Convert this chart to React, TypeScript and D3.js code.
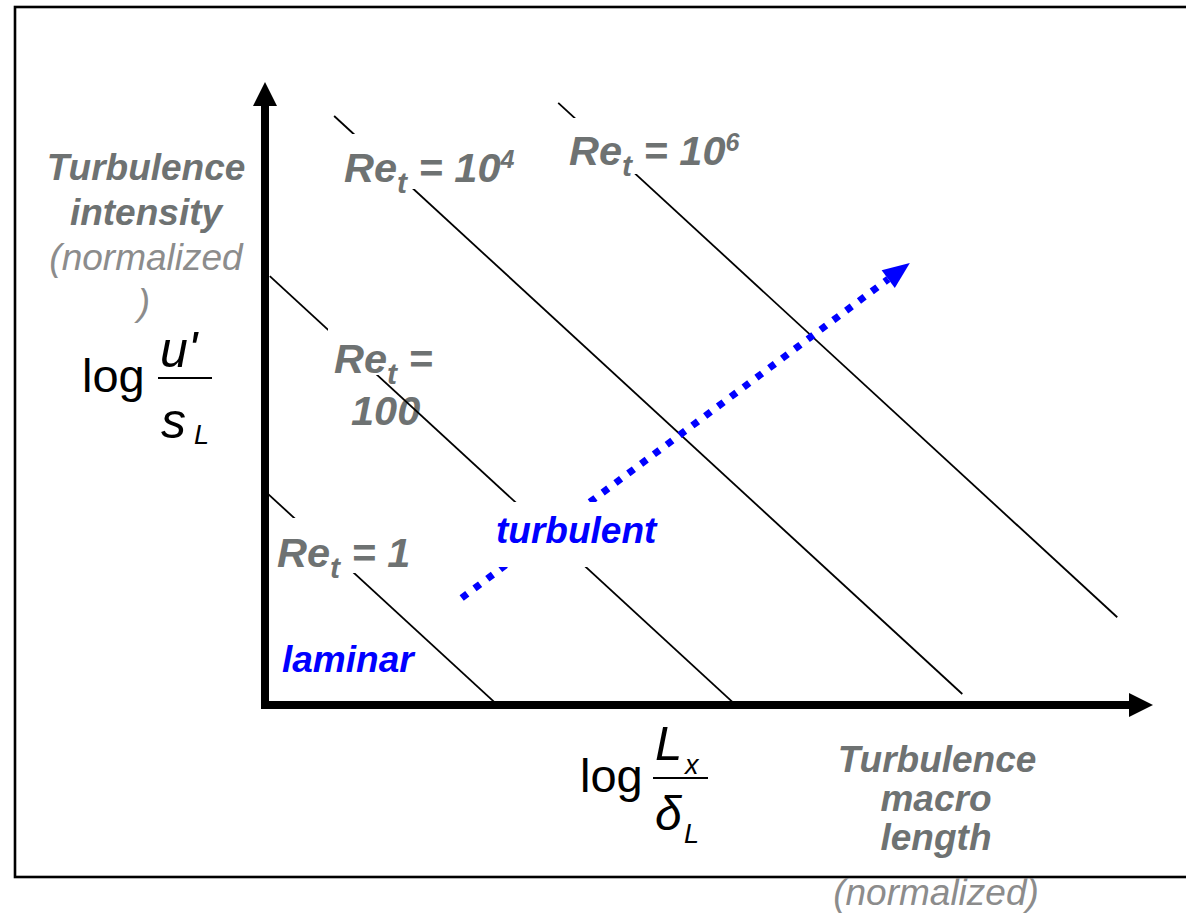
import React from "react";
import * as d3 from "d3";

const W = 1186;
const H = 914;

// Iso-lines of the turbulent Reynolds number: log10(Re_t) = log(u'/sL) + log(Lx/δL)
const reExponents = [0, 2, 4, 6];
// Extent of each iso-line along log(Lx/δL)
const lineFrom = [-1.93, -1.91, -1.37, 0.51];
const lineTo = [0.02, 2.03, 3.9, 5.2];

// Direction of increasing turbulence (log Lx/δL, log u'/sL)
const regimeArrowFrom: [number, number] = [-0.3, 0.976];
const regimeArrowTo: [number, number] = [3.46, 4.03];

// Axis extents in log units
const xDomain = [-1.95, 5.5];
const yDomain = [0, 5.68];

const FONT = "'Liberation Sans', Arial, Helvetica, sans-serif";
const GRAY = "#6e7272";
const LIGHT = "#8c8c8c";
const BLUE = "#0000ff";

function ReLabel({ x, y, tail, sup }: { x: number; y: number; tail: string; sup?: string }) {
  return (
    <text x={x} y={y} fontFamily={FONT} fontSize={41.5} fontWeight="bold" fontStyle="italic" fill={GRAY}>
      <tspan>Re</tspan>
      <tspan dy={11} fontSize={30}>t</tspan>
      <tspan dy={-11}>{tail}</tspan>
      {sup ? (
        <tspan dy={-14} fontSize={25}>
          {sup}
        </tspan>
      ) : null}
    </text>
  );
}

export default function App() {
  const x = d3.scaleLinear().domain(xDomain).range([265, 1153]);
  const y = d3.scaleLinear().domain(yDomain).range([705, 82]);
  const line = d3
    .line<[number, number]>()
    .x((d) => x(d[0]))
    .y((d) => y(d[1]));

  const x0 = x(xDomain[0]);
  const y0 = y(yDomain[0]);
  const xTip = x(xDomain[1]);
  const yTip = y(yDomain[1]);
  const head = 24;
  const half = 12;

  // regime arrow geometry
  const ax0 = x(regimeArrowFrom[0]);
  const ay0 = y(regimeArrowFrom[1]);
  const ax1 = x(regimeArrowTo[0]);
  const ay1 = y(regimeArrowTo[1]);
  const len = Math.hypot(ax1 - ax0, ay1 - ay0);
  const ux = (ax1 - ax0) / len;
  const uy = (ay1 - ay0) / len;
  const hl = 27;
  const hw = 11;
  const bx = ax1 - ux * hl;
  const by = ay1 - uy * hl;
  const headPts = [
    [ax1, ay1],
    [bx - uy * hw, by + ux * hw],
    [bx + uy * hw, by - ux * hw],
  ]
    .map((p) => p.join(","))
    .join(" ");

  return (
    <svg
      width={W}
      height={H}
      viewBox={`0 0 ${W} ${H}`}
      style={{ position: "absolute", left: 0, top: 0, background: "#fff" }}
    >
      <rect x={0} y={0} width={W} height={H} fill="#fff" />
      {/* frame */}
      <rect x={15} y={7} width={1190} height={870} fill="none" stroke="#000" strokeWidth={2.6} />

      {/* second line of the Re_t = 100 label sits beneath its iso-line */}
      <text x={351} y={425} fontFamily={FONT} fontSize={41.5} fontWeight="bold" fontStyle="italic" fill={GRAY}>
        100
      </text>

      {/* Re_t iso-lines */}
      {reExponents.map((e, i) => (
        <path
          key={e}
          d={
            line([
              [lineFrom[i], e - lineFrom[i]],
              [lineTo[i], e - lineTo[i]],
            ]) as string
          }
          stroke="#000"
          strokeWidth={1.8}
          fill="none"
        />
      ))}

      {/* dotted regime arrow */}
      <line
        x1={ax0}
        y1={ay0}
        x2={bx}
        y2={by}
        stroke={BLUE}
        strokeWidth={7}
        strokeDasharray="7 9"
      />
      <polygon points={headPts} fill={BLUE} />

      {/* label backgrounds */}
      <rect x={340} y={134} width={185} height={55} fill="#fff" />
      <rect x={565} y={118} width={185} height={56} fill="#fff" />
      <rect x={328} y={326} width={112} height={49} fill="#fff" />
      <rect x={273} y={518} width={142} height={55} fill="#fff" />
      <rect x={478} y={502} width={190} height={65} fill="#fff" />

      <ReLabel x={344} y={182} tail=" = 10" sup="4" />
      <ReLabel x={569} y={165} tail=" = 10" sup="6" />
      <ReLabel x={334} y={373} tail=" =" />
      <ReLabel x={277} y={567} tail=" = 1" />

      <text x={496} y={543} fontFamily={FONT} fontSize={37} fontWeight="bold" fontStyle="italic" fill={BLUE}>
        turbulent
      </text>
      <text x={282} y={672} fontFamily={FONT} fontSize={37} fontWeight="bold" fontStyle="italic" fill={BLUE}>
        laminar
      </text>

      {/* axes */}
      <line x1={x0} y1={y0 + 4} x2={x0} y2={yTip + head} stroke="#000" strokeWidth={8} />
      <polygon points={`${x0},${yTip} ${x0 - half},${yTip + head} ${x0 + half},${yTip + head}`} fill="#000" />
      <line x1={x0 - 4} y1={y0} x2={xTip - head} y2={y0} stroke="#000" strokeWidth={8} />
      <polygon points={`${xTip},${y0} ${xTip - head},${y0 - half} ${xTip - head},${y0 + half}`} fill="#000" />

      {/* y-axis title */}
      <g fontFamily={FONT} textAnchor="middle" fontSize={37} fontStyle="italic">
        <text x={146} y={180} fontWeight="bold" fill={GRAY}>
          Turbulence
        </text>
        <text x={146} y={225} fontWeight="bold" fill={GRAY}>
          intensity
        </text>
        <text x={146} y={270} fill={LIGHT}>
          (normalized
        </text>
        <text x={144} y={315} fill={LIGHT}>
          )
        </text>
      </g>
      <g fontFamily={FONT} fill="#000">
        <text x={82} y={392} fontSize={47}>
          log
        </text>
        <line x1={158} y1={378} x2={212} y2={378} stroke="#000" strokeWidth={2} />
        <text x={160} y={367} fontSize={50} fontStyle="italic">
          u'
        </text>
        <text x={161} y={438} fontSize={50} fontStyle="italic">
          s
        </text>
        <text x={194} y={444} fontSize={27} fontStyle="italic">
          L
        </text>
      </g>

      {/* x-axis title */}
      <g fontFamily={FONT} fill="#000">
        <text x={580} y={792} fontSize={47}>
          log
        </text>
        <line x1={653} y1={778} x2={708} y2={778} stroke="#000" strokeWidth={2} />
        <text x={655} y={760} fontSize={49} fontStyle="italic">
          L
        </text>
        <text x={685} y={774} fontSize={27} fontStyle="italic">
          x
        </text>
        <text x={655} y={830} fontSize={48} fontStyle="italic">
          δ
        </text>
        <text x={684} y={843} fontSize={27} fontStyle="italic">
          L
        </text>
      </g>
      <g fontFamily={FONT} textAnchor="middle" fontSize={37} fontStyle="italic">
        <text x={937} y={772} fontWeight="bold" fill={GRAY}>
          Turbulence
        </text>
        <text x={936} y={811} fontWeight="bold" fill={GRAY}>
          macro
        </text>
        <text x={936} y={850} fontWeight="bold" fill={GRAY}>
          length
        </text>
        <text x={936} y={905} fill={LIGHT}>
          (normalized)
        </text>
      </g>
    </svg>
  );
}
